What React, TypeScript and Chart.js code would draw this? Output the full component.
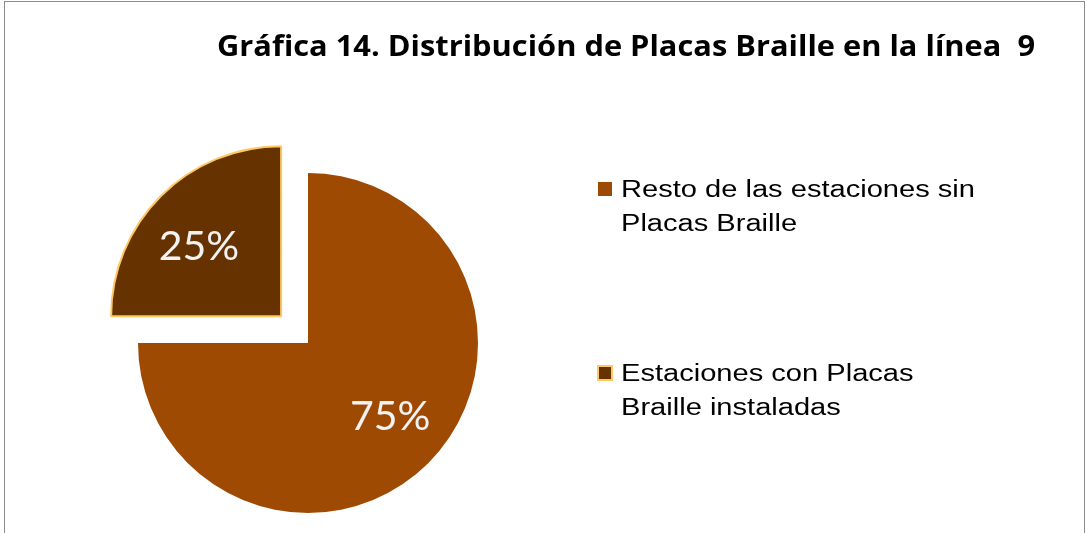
import React, { useEffect, useRef } from "react";
import { Chart, registerables } from "chart.js";

Chart.register(...registerables);

const titleText = "Gráfica 14. Distribución de Placas Braille en la línea  9";
const categories: string[][] = [
  ["Resto de las estaciones sin", "Placas Braille"],
  ["Estaciones con Placas", "Braille instaladas"],
];
const seriesValues = [75, 25];
const sliceColors = ["#9E4A03", "#663300"];
const sliceBorders = ["#FFFFFF", "#FFC862"];
const sliceBorderWidths = [0, 2];
const sliceOffsets = [0, 152];

const W = 1086;
const H = 533;

function drawStretched(
  ctx: CanvasRenderingContext2D,
  text: string,
  x: number,
  y: number,
  sx: number,
  align: "left" | "center"
) {
  const w = ctx.measureText(text).width * sx;
  const left = align === "center" ? x - w / 2 : x;
  ctx.save();
  ctx.textAlign = "left";
  ctx.translate(left, y);
  ctx.scale(sx, 1);
  ctx.fillText(text, 0, 0);
  ctx.restore();
}

const decorPlugin = {
  id: "decor",
  afterDraw(chart: any) {
    const ctx = chart.ctx as CanvasRenderingContext2D;
    ctx.save();
    // title
    ctx.fillStyle = "#000000";
    ctx.font = "bold 29px 'Open Sans'";
    ctx.textBaseline = "alphabetic";
    const tw = ctx.measureText(titleText).width;
    drawStretched(ctx, titleText, 626, 56, 818 / tw, "center");

    // percentage labels
    const meta = chart.getDatasetMeta(0);
    const ds = chart.data.datasets[0];
    const total = (ds.data as number[]).reduce((a, b) => a + b, 0);
    ctx.font = "41px Lato";
    ctx.fillStyle = "#F2F2F2";
    ctx.textAlign = "center";
    ctx.textBaseline = "middle";
    const angleShift = (-4 * Math.PI) / 180;
    meta.data.forEach((arc: any, i: number) => {
      const p = arc.getProps(["x", "y", "startAngle", "endAngle", "outerRadius"], true);
      const mid = (p.startAngle + p.endAngle) / 2;
      const off = (sliceOffsets[i] || 0) / 4;
      const cx = p.x + Math.cos(mid) * off;
      const cy = p.y + Math.sin(mid) * off;
      const r = p.outerRadius * 0.64;
      const a = mid + angleShift;
      const pct = Math.round(((ds.data[i] as number) / total) * 100) + "%";
      ctx.fillText(pct, cx + Math.cos(a) * r, cy + Math.sin(a) * r + 2);
    });

    // legend
    const labels = chart.data.labels as string[][];
    const baseYs = [197, 381];
    ctx.font = "23px 'Liberation Sans', Arial";
    ctx.textBaseline = "alphabetic";
    const lw = ctx.measureText(labels[0][0]).width;
    const lsx = 354 / lw;
    labels.forEach((lines, i) => {
      const y0 = baseYs[i];
      ctx.fillStyle = (ds.backgroundColor as string[])[i];
      ctx.fillRect(598, y0 - 15, 14, 14);
      const bw = sliceBorderWidths[i];
      if (bw > 0) {
        ctx.strokeStyle = sliceBorders[i];
        ctx.lineWidth = bw;
        ctx.strokeRect(598, y0 - 15, 14, 14);
      }
      ctx.fillStyle = "#000000";
      lines.forEach((line, j) => {
        drawStretched(ctx, line, 621, y0 + j * 34, lsx, "left");
      });
    });
    ctx.restore();
  },
};

export default function App() {
  const ref = useRef<HTMLCanvasElement | null>(null);
  useEffect(() => {
    document.body.style.margin = "0";
    const canvas = ref.current;
    if (!canvas) return;
    const chart = new Chart(canvas, {
      type: "pie",
      data: {
        labels: categories as any,
        datasets: [
          {
            data: seriesValues,
            backgroundColor: sliceColors,
            borderColor: sliceBorders,
            borderWidth: sliceBorderWidths,
            offset: sliceOffsets,
          } as any,
        ],
      },
      options: {
        responsive: false,
        animation: false,
        events: [],
        radius: 170,
        rotation: 0,
        layout: { padding: { left: 0, right: 470, top: 153, bottom: 0 } },
        plugins: {
          legend: { display: false },
          title: { display: false },
          tooltip: { enabled: false },
        },
      } as any,
      plugins: [decorPlugin],
    });
    return () => chart.destroy();
  }, []);
  return (
    <div style={{ position: "absolute", left: 0, top: 0, width: W, height: H, background: "#fff" }}>
      <canvas ref={ref} width={W} height={H} style={{ display: "block", width: W, height: H }} />
      <div
        style={{
          position: "absolute",
          left: 4,
          top: 1,
          width: 1079,
          height: 560,
          border: "1px solid #8C8C8C",
          pointerEvents: "none",
        }}
      />
    </div>
  );
}
